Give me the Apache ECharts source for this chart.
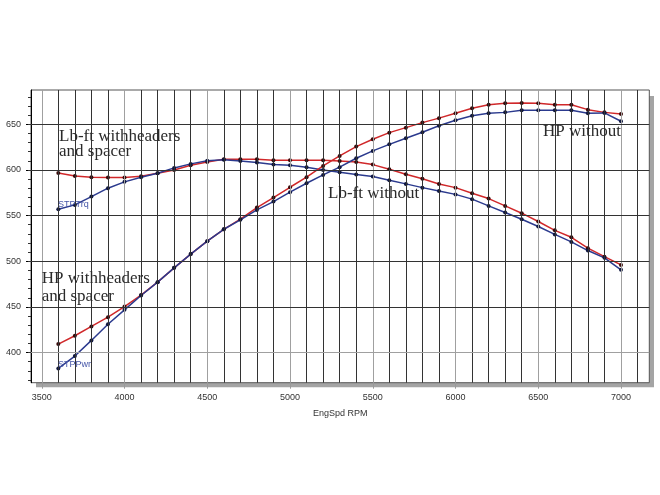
<!DOCTYPE html>
<html>
<head>
<meta charset="utf-8">
<script src="https://cdn.jsdelivr.net/npm/echarts@6/dist/echarts.min.js"></script>
<style>
html,body{margin:0;padding:0;background:#fff;}
#chart{width:660px;height:495px;}
</style>
</head>
<body>
<div id="chart"></div>
<script>
// ---- data ----
var rpm = [3600,3700,3800,3900,4000,4100,4200,4300,4400,4500,4600,4700,4800,4900,5000,5100,5200,5300,5400,5500,5600,5700,5800,5900,6000,6100,6200,6300,6400,6500,6600,6700,6800,6900,7000];
var tqWith = [596.7,593.4,592,591.6,591.6,593,596.3,600,605,608.7,611.7,611.7,611.7,610.6,610.6,610.6,610.6,609.8,608.7,605.8,600.7,595.3,590.3,584.5,580.6,574.5,568.6,560.6,552.6,543.5,533.8,526.2,514.3,505,496];
var tqWithout = [557,561.7,570.8,580,586.9,592,596.3,602.2,606.6,610,611,609.8,608,605.8,605,603,600,597.4,594.9,592.7,588.7,584.7,580.6,577,573.2,568,560.6,553.3,546,538,529.4,521.2,511.7,503.7,490.6];
var hpWith = [409.3,418.4,428.6,438.8,450.4,462.9,477.1,492.8,507.8,522,535,546,558.8,569.7,581,592,604.4,615.3,625.5,633.6,640.8,646.3,651.8,656.7,662,667.5,671.4,673,673.4,673,671.4,671.4,666,663,661.3];
var hpWithout = [382.6,396.2,413.3,431,446.8,462.5,477.1,492.8,507.8,522,535,545.3,556.2,565.3,575.6,585.4,594.5,603,612.8,620.8,628,634.7,641.2,648.3,654.4,659.4,662,663,665.3,665.3,665.3,665.3,662,662.4,653.3];

var xTickLabels = [3500,4000,4500,5000,5500,6000,6500,7000];
var yTickLabels = [400,450,500,550,600,650];
var xGridValues = [3500,3600,3700,3800,3900,4000,4100,4200,4300,4400,4500,4600,4700,4800,4900,5000,5100,5200,5300,5400,5500,5600,5700,5800,5900,6000,6100,6200,6300,6400,6500,6600,6700,6800,6900,7000,7100];
var yMinorTicks = [370,380,390,400,410,420,430,440,450,460,470,480,490,500,510,520,530,540,550,560,570,580,590,600,610,620,630,640,650,660,670,680];

var xName = 'EngSpd RPM';
var labelTqWith = ['Lb-ft withheaders', 'and spacer'];
var labelHpWith = ['HP withheaders', 'and spacer'];
var labelTqWithout = 'Lb-ft without';
var labelHpWithout = 'HP without';

function pairs(ys){ return rpm.map(function(x,i){ return [x, ys[i]]; }); }

var RED = '#d0282a', BLUE = '#2b3a8e';
var serif = '"Liberation Serif","Times New Roman",serif';
var sans = 'Arial,"Liberation Sans",sans-serif';

var chart = echarts.init(document.getElementById('chart'), null, {renderer:'canvas'});

var gridMarks = [];
xGridValues.forEach(function(v){
  gridMarks.push({xAxis: v, lineStyle:{color: v % 500 === 0 ? '#a0a0a0' : '#333', width:1, type:'solid'}});
});
yTickLabels.forEach(function(v){
  gridMarks.push({yAxis: v, lineStyle:{color: v === 400 ? '#a0a0a0' : '#333', width:1, type:'solid'}});
});

function lineSeries(name, ys, color, markColor){
  return {
    name: name, type:'line', data: pairs(ys), z: 3,
    symbol:'circle', symbolSize:4, showSymbol:true,
    lineStyle:{color: color, width:1.5},
    itemStyle:{color: markColor, borderWidth:0},
    animation:false
  };
}

var option = {
  animation:false,
  backgroundColor:'#fff',
  grid:{left:31, top:90, right:10.7, bottom:112.3, show:true, borderColor:'#555', borderWidth:1, backgroundColor:'#fff'},
  xAxis:{
    type:'value', min:3435, max:7171,
    axisLine:{show:false},
    axisTick:{show:true, customValues:xTickLabels, length:6, inside:false, lineStyle:{color:'#999'}},
    axisLabel:{customValues:xTickLabels, fontSize:9, color:'#333', fontFamily:sans, margin:10,
      formatter:function(v){ return String(v); }},
    splitLine:{show:false},
    name:xName, nameLocation:'middle', nameGap:26,
    nameTextStyle:{fontSize:9, color:'#333', fontFamily:sans}
  },
  yAxis:[
    {
      type:'value', min:367, max:687.5,
      axisLine:{show:true, lineStyle:{color:'#000', width:1}},
      axisTick:{show:true, customValues:yTickLabels, length:5, lineStyle:{color:'#000'}},
      axisLabel:{customValues:yTickLabels, fontSize:9, color:'#333', fontFamily:sans, margin:10,
        formatter:function(v){ return String(v); }},
      splitLine:{show:false}
    },
    {
      type:'value', min:367, max:687.5, position:'left', offset:0,
      axisLine:{show:false},
      axisTick:{show:true, customValues:yMinorTicks, length:3, lineStyle:{color:'#333'}},
      axisLabel:{show:false},
      splitLine:{show:false}
    }
  ],
  graphic:[
    {type:'rect', z:-1, shape:{x:649, y:96, width:5, height:291}, style:{fill:'#a4a4a4'}},
    {type:'rect', z:-1, shape:{x:36, y:382.7, width:618, height:4.5}, style:{fill:'#a4a4a4'}},
    {type:'text', z:10, style:{text:labelTqWith[0], x:59, y:136.5, font:'17px '+serif, fill:'#2a2a2a', verticalAlign:'middle'}},
    {type:'text', z:10, style:{text:labelTqWith[1], x:59, y:151.5, font:'17px '+serif, fill:'#2a2a2a', verticalAlign:'middle'}},
    {type:'text', z:10, style:{text:labelHpWith[0], x:41.7, y:278.5, font:'17px '+serif, fill:'#2a2a2a', verticalAlign:'middle'}},
    {type:'text', z:10, style:{text:labelHpWith[1], x:41.7, y:296.5, font:'17px '+serif, fill:'#2a2a2a', verticalAlign:'middle'}},
    {type:'text', z:10, style:{text:labelTqWithout, x:328, y:194, font:'17px '+serif, fill:'#2a2a2a', verticalAlign:'middle'}},
    {type:'text', z:10, style:{text:labelHpWithout, x:543, y:132, font:'17px '+serif, fill:'#2a2a2a', verticalAlign:'middle'}},
    {type:'text', z:10, style:{text:'STPTrq', x:58, y:205, font:'9px '+sans, fill:'#4656a8', verticalAlign:'middle'}},
    {type:'text', z:10, style:{text:'STPPwr', x:58, y:364.5, font:'9px '+sans, fill:'#4656a8', verticalAlign:'middle'}}
  ],
  series:[
    {
      type:'line', data:[], z:1, silent:true,
      markLine:{silent:true, symbol:['none','none'], label:{show:false}, animation:false, data:gridMarks}
    },
    lineSeries('Lb-ft with', tqWith, RED, '#3a0a0a'),
    lineSeries('Lb-ft without', tqWithout, BLUE, '#101840'),
    lineSeries('HP with', hpWith, RED, '#3a0a0a'),
    lineSeries('HP without', hpWithout, BLUE, '#101840')
  ]
};
chart.setOption(option);
</script>
</body>
</html>
